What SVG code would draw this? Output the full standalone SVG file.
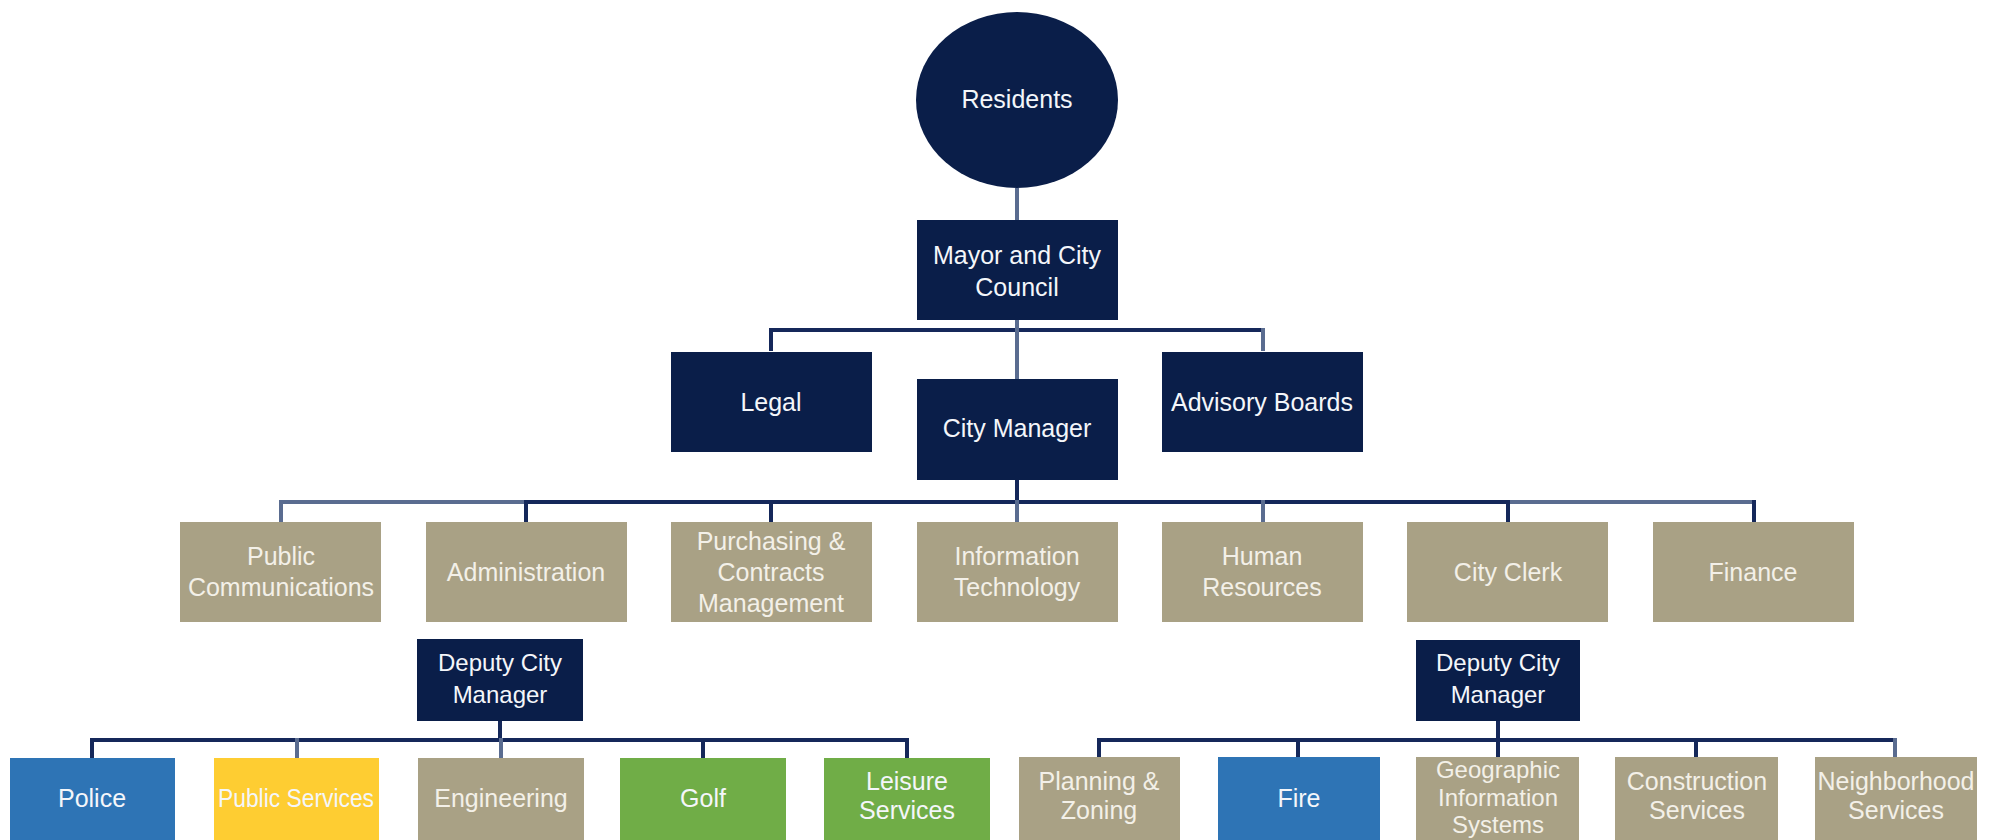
<svg xmlns="http://www.w3.org/2000/svg" width="1992" height="840" viewBox="0 0 1992 840">
<style>
.nv{fill:#0a1e49}
.tn{fill:#a9a185}
.bl{fill:#2e74b5}
.yl{fill:#fecd32}
.gr{fill:#70ad47}
text{font-family:"Liberation Sans",Arial,sans-serif;font-size:25px;text-anchor:middle}
.w{fill:#f4f6fa}
.lw{fill:#f3f0e8}
.s24{font-size:24px}
.ln{stroke:#15285a;stroke-width:4;fill:none}
.lt{stroke:#5a6c90;stroke-width:4;fill:none}
</style>
<rect width="1992" height="840" fill="#ffffff"/>
<g id="connectors">
<line class="lt" x1="1017" y1="188" x2="1017" y2="221"/>
<line class="ln" x1="769" y1="330" x2="1265" y2="330"/>
<line class="ln" x1="771" y1="328" x2="771" y2="351"/>
<line class="lt" x1="1263" y1="328" x2="1263" y2="351"/>
<line class="lt" x1="1017" y1="320" x2="1017" y2="379"/>
<line class="ln" x1="1017" y1="480" x2="1017" y2="502"/>
<line class="lt" x1="279" y1="502" x2="526" y2="502"/>
<line class="ln" x1="526" y1="502" x2="1508" y2="502"/>
<line class="lt" x1="1508" y1="502" x2="1756" y2="502"/>
<line class="lt" x1="281" y1="500" x2="281" y2="522"/>
<line class="ln" x1="526" y1="500" x2="526" y2="522"/>
<line class="ln" x1="771" y1="500" x2="771" y2="522"/>
<line class="lt" x1="1017" y1="500" x2="1017" y2="522"/>
<line class="lt" x1="1263" y1="500" x2="1263" y2="522"/>
<line class="ln" x1="1508" y1="500" x2="1508" y2="522"/>
<line class="ln" x1="1754" y1="500" x2="1754" y2="522"/>
<line class="ln" x1="500" y1="721" x2="500" y2="740"/>
<line class="ln" x1="90" y1="740" x2="909" y2="740"/>
<line class="ln" x1="92" y1="738" x2="92" y2="758"/>
<line class="lt" x1="297" y1="738" x2="297" y2="758"/>
<line class="lt" x1="501" y1="738" x2="501" y2="758"/>
<line class="ln" x1="703" y1="738" x2="703" y2="758"/>
<line class="ln" x1="907" y1="738" x2="907" y2="758"/>
<line class="ln" x1="1498" y1="721" x2="1498" y2="740"/>
<line class="ln" x1="1097" y1="740" x2="1897" y2="740"/>
<line class="ln" x1="1099" y1="738" x2="1099" y2="757"/>
<line class="ln" x1="1298" y1="738" x2="1298" y2="757"/>
<line class="ln" x1="1498" y1="738" x2="1498" y2="757"/>
<line class="ln" x1="1696" y1="738" x2="1696" y2="757"/>
<line class="lt" x1="1895" y1="738" x2="1895" y2="757"/>
</g>
<g id="residents"><ellipse class="nv" cx="1017" cy="100" rx="101" ry="88"/><text class="w" x="1017" y="108">Residents</text></g>
<g id="mayor"><rect class="nv" x="917" y="220" width="201" height="100"/><text class="w" x="1017" y="264">Mayor and City</text><text class="w" x="1017" y="296">Council</text></g>
<g id="legal"><rect class="nv" x="671" y="352" width="201" height="100"/><text class="w" x="771" y="411">Legal</text></g>
<g id="city-manager"><rect class="nv" x="917" y="379" width="201" height="101"/><text class="w" x="1017" y="437">City Manager</text></g>
<g id="advisory"><rect class="nv" x="1162" y="352" width="201" height="100"/><text class="w" x="1262" y="411">Advisory Boards</text></g>
<g id="public-comm"><rect class="tn" x="180" y="522" width="201" height="100"/><text class="lw" x="281" y="565">Public</text><text class="lw" x="281" y="596">Communications</text></g>
<g id="administration"><rect class="tn" x="426" y="522" width="201" height="100"/><text class="lw" x="526" y="581">Administration</text></g>
<g id="purchasing"><rect class="tn" x="671" y="522" width="201" height="100"/><text class="lw" x="771" y="550">Purchasing &amp;</text><text class="lw" x="771" y="581">Contracts</text><text class="lw" x="771" y="612">Management</text></g>
<g id="it"><rect class="tn" x="917" y="522" width="201" height="100"/><text class="lw" x="1017" y="565">Information</text><text class="lw" x="1017" y="596">Technology</text></g>
<g id="hr"><rect class="tn" x="1162" y="522" width="201" height="100"/><text class="lw" x="1262" y="565">Human</text><text class="lw" x="1262" y="596">Resources</text></g>
<g id="city-clerk"><rect class="tn" x="1407" y="522" width="201" height="100"/><text class="lw" x="1508" y="581">City Clerk</text></g>
<g id="finance"><rect class="tn" x="1653" y="522" width="201" height="100"/><text class="lw" x="1753" y="581">Finance</text></g>
<g id="deputy-left"><rect class="nv" x="417" y="639" width="166" height="82"/><text class="w s24" x="500" y="671">Deputy City</text><text class="w s24" x="500" y="703">Manager</text></g>
<g id="deputy-right"><rect class="nv" x="1416" y="640" width="164" height="81"/><text class="w s24" x="1498" y="671">Deputy City</text><text class="w s24" x="1498" y="703">Manager</text></g>
<g id="police"><rect class="bl" x="10" y="758" width="165" height="90"/><text class="w" x="92" y="807">Police</text></g>
<g id="public-services"><rect class="yl" x="214" y="758" width="165" height="90"/><text class="w" x="296" y="807" font-size="23" textLength="156" lengthAdjust="spacingAndGlyphs">Public Services</text></g>
<g id="engineering"><rect class="tn" x="418" y="758" width="166" height="90"/><text class="lw" x="501" y="807">Engineering</text></g>
<g id="golf"><rect class="gr" x="620" y="758" width="166" height="90"/><text class="w" x="703" y="807">Golf</text></g>
<g id="leisure"><rect class="gr" x="824" y="758" width="166" height="90"/><text class="w" x="907" y="790">Leisure</text><text class="w" x="907" y="819">Services</text></g>
<g id="planning"><rect class="tn" x="1019" y="757" width="161" height="90"/><text class="lw" x="1099" y="790">Planning &amp;</text><text class="lw" x="1099" y="819">Zoning</text></g>
<g id="fire"><rect class="bl" x="1218" y="757" width="162" height="90"/><text class="w" x="1299" y="807">Fire</text></g>
<g id="gis"><rect class="tn" x="1416" y="757" width="163" height="90"/><text class="lw s24" x="1498" y="778">Geographic</text><text class="lw s24" x="1498" y="806">Information</text><text class="lw s24" x="1498" y="833">Systems</text></g>
<g id="construction"><rect class="tn" x="1615" y="757" width="163" height="90"/><text class="lw" x="1697" y="790">Construction</text><text class="lw" x="1697" y="819">Services</text></g>
<g id="neighborhood"><rect class="tn" x="1815" y="757" width="162" height="90"/><text class="lw" x="1896" y="790">Neighborhood</text><text class="lw" x="1896" y="819">Services</text></g>
</svg>
